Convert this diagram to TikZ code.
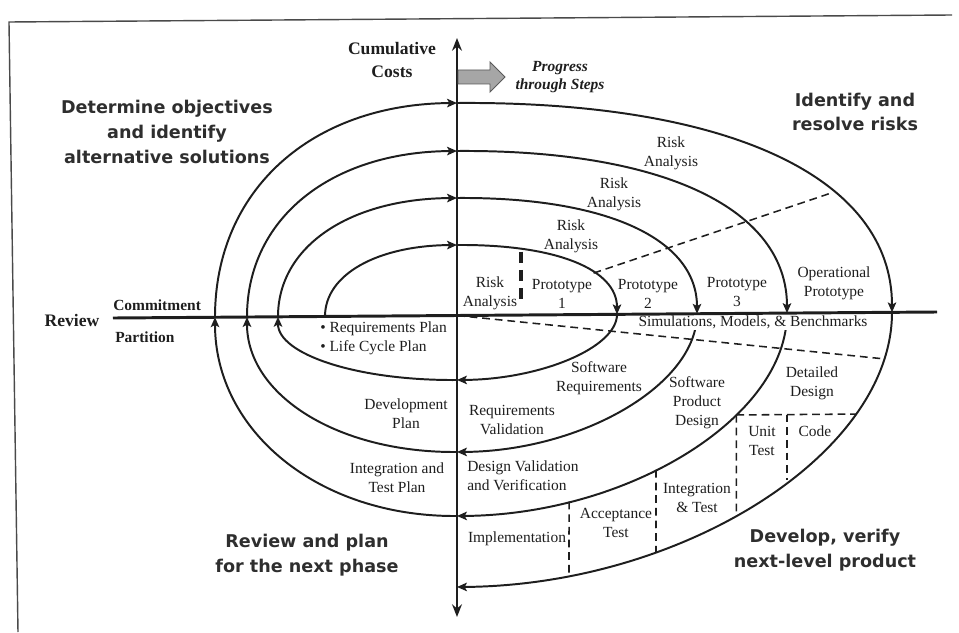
\documentclass[tikz,border=0pt]{standalone}
\usepackage{fontspec}
\setmainfont{Liberation Serif}
\newfontfamily\quadfamily{DejaVu Sans}
\usetikzlibrary{arrows.meta,intersections}

\definecolor{ink}{HTML}{1E1E1E}
\definecolor{quadink}{HTML}{2E2E2E}
\definecolor{framegray}{HTML}{4A4A4A}
\definecolor{stepgray}{HTML}{A6A6A6}

\newcommand\lblfont{\fontsize{11}{13.5}\selectfont}
\newcommand\quadfont{\quadfamily\bfseries\fontsize{12.5}{17.7}\selectfont}

% control-point factors of the four quadrant arcs
\def\kTL{0.6}
\def\kTR{0.63}
\def\kBR{0.52}
\def\kBL{0.57}

% quarter arcs of the spiral: #1 horizontal radius, #2 vertical radius, #3 path name
\newcommand\arcTL[3]{\draw[spiral,name path=#3] (-#1,0) .. controls (-#1,{\kTL*#2}) and ({-\kTL*#1},#2) .. (0,#2);}
\newcommand\arcTR[3]{\draw[spiral,name path=#3] (0,#2) .. controls ({\kTR*#1},#2) and (#1,{\kTR*#2}) .. (#1,0);}
\newcommand\arcBR[3]{\draw[spiral,name path=#3] (#1,0) .. controls (#1,{-\kBR*#2}) and ({\kBR*#1},-#2) .. (0,-#2);}
\newcommand\arcBL[3]{\draw[spiral,name path=#3] (0,-#2) .. controls ({-\kBL*#1},-#2) and (-#1,{-\kBL*#2}) .. (-#1,0);}

\begin{document}
\begin{tikzpicture}[x=0.025cm,y=0.025cm,
  spiral/.style={line width=1.4pt, draw=ink, -{Stealth[length=7pt,width=6pt,inset=1.5pt]}},
  axisline/.style={line width=2.1pt, draw=ink},
  dashline/.style={line width=1.1pt, draw=ink, dash pattern=on 5.5pt off 3.5pt},
  bolddash/.style={line width=2.6pt, draw=ink, dash pattern=on 8pt off 5pt},
  lbl/.style={font=\lblfont, align=center, text=ink, inner sep=0pt},
  boldlbl/.style={font=\bfseries\fontsize{11}{13.5}\selectfont, text=ink, inner sep=0pt},
  quad/.style={font=\quadfont, align=center, text=quadink, inner sep=0pt}]

\useasboundingbox (-457,-316.5) rectangle (502,315.5);

% page frame
\draw[framegray, line width=1pt] (-439,-316.5) -- (-448,293.5) -- (495,300.5);

\begin{scope}[yslant=0.0073]
  % the spiral, one quadrant at a time
  \arcTL{132}{70.5}{tl1}
  \arcTR{160}{70.5}{tr1}
  \arcBR{160}{64.5}{br1}
  \arcBL{179}{64.5}{bl1}
  \arcTL{179}{117.5}{tl2}
  \arcTR{240}{117.5}{tr2}
  \arcBR{240}{136.5}{br2}
  \arcBL{210}{136.5}{bl2}
  \arcTL{210}{164.5}{tl3}
  \arcTR{330}{164.5}{tr3}
  \arcBR{330}{200.5}{br3}
  \arcBL{242}{200.5}{bl3}
  \arcTL{242}{212.5}{tl4}
  \arcTR{435}{212.5}{tr4}
  \arcBR{435}{271.5}{br4}

  % prototype boundary in the risk quadrant
  \path[name path=trcut] (100,29.3) -- (420,134.9);
  \path[name intersections={of=trcut and tr1, by=trA}];
  \path[name intersections={of=trcut and tr4, by=trB}];
  \draw[dashline] (trA) -- (trB);

  % boundary below the simulations band
  \path[name path=simcut] (0,0) -- (470,-51.2);
  \path[name intersections={of=simcut and br4, by=simB}];
  \coordinate (orig) at (0,0);
  \draw[dashline] (orig) -- (simB);

  % detailed design / code / unit test boxes
  \path[name path=codecut] (150,-101.5) -- (470,-101.5);
  \path[name intersections={of=codecut and br3, by=cdA}];
  \path[name intersections={of=codecut and br4, by=cdB}];
  \draw[dashline] (cdA) -- (cdB);
  \path[name path=utcut] (cdA) -- ++(0,-200);
  \path[name intersections={of=utcut and br4, by=utB}];
  \draw[dashline] (cdA) -- (utB);
  \coordinate (cdTop) at (330,-101.5);
  \coordinate (cdEnd) at (330,-167);
  \draw[dashline] (cdTop) -- (cdEnd);

  % integration / acceptance / implementation boundaries
  \path[name path=itcut] (199,0) -- (199,-320);
  \path[name intersections={of=itcut and br3, by=itA}];
  \path[name intersections={of=itcut and br4, by=itB}];
  \draw[dashline] (itA) -- (itB);
  \path[name path=atcut] (112,0) -- (112,-320);
  \path[name intersections={of=atcut and br3, by=atA}];
  \path[name intersections={of=atcut and br4, by=atB}];
  \draw[dashline] (atA) -- (atB);

  % risk analysis / prototype 1 divider
  \coordinate (rdTop) at (64,63.5);
  \coordinate (rdEnd) at (64,10.5);
  \draw[bolddash] (rdTop) -- (rdEnd);
\end{scope}

\node[lbl, fill=white, inner sep=1pt] (sim) at (296,-6.5) {Simulations, Models, \& Benchmarks};

\begin{scope}[yslant=0.0073]
  \coordinate (hL) at (-344,0);
  \coordinate (hR) at (480,0);
  \coordinate (vB) at (0,-301.5);
  \coordinate (vT) at (0,277.5);
  \draw[axisline] (hL) -- (hR);
  \draw[axisline, {Stealth[length=9pt,width=7pt]}-{Stealth[length=9pt,width=7pt]}] (vB) -- (vT);
\end{scope}

% progress arrow
\draw[fill=stepgray, draw=black!65, line width=0.6pt]
  (1,245.5) -- (33,245.5) -- (33,253.5) -- (48,238.5) -- (33,223.5) -- (33,231.5) -- (1,231.5) -- cycle;

% axis and step labels
\node[boldlbl, align=center, font=\bfseries\fontsize{12.5}{17}\selectfont] (costs) at (-65,255.5) {Cumulative\\Costs};
\node[boldlbl, align=center, font=\bfseries\itshape\fontsize{11}{13}\selectfont] (progress) at (103,238.5) {Progress\\through Steps};
\node[boldlbl, font=\bfseries\fontsize{12.5}{15}\selectfont] (review) at (-385,-4.5) {Review};
\node[boldlbl, anchor=west] (commit) at (-344,10.5) {Commitment};
\node[boldlbl, anchor=west] (partition) at (-342,-21.5) {Partition};

% quadrant titles
\node[quad] (q1) at (-290,183.5) {Determine objectives\\and identify\\alternative solutions};
\node[quad] (q2) at (398,203.5) {Identify and\\resolve risks};
\node[quad] (q3) at (-150,-239.5) {Review and plan\\for the next phase};
\node[quad] (q4) at (368,-234.5) {Develop, verify\\next-level product};

% risk quadrant labels
\node[lbl] (ra1) at (214,162.5) {Risk\\Analysis};
\node[lbl] (ra2) at (157,121.5) {Risk\\Analysis};
\node[lbl] (ra3) at (114,79.5) {Risk\\Analysis};
\node[lbl] (ra4) at (33,22.5) {Risk\\Analysis};
\node[lbl] (p1) at (105,21.5) {Prototype\\1};
\node[lbl] (p2) at (191,21.5) {Prototype\\2};
\node[lbl] (p3) at (280,23.5) {Prototype\\3};
\node[lbl] (p4) at (377,32.5) {Operational\\Prototype};

% planning quadrant labels
\node[lbl, align=left, anchor=west] (plans) at (-137,-23) {\textbullet\ Requirements Plan\\\textbullet\ Life Cycle Plan};
\node[lbl] (devplan) at (-51,-98.5) {Development\\Plan};
\node[lbl] (itplan) at (-60,-162.5) {Integration and\\Test Plan};

% development quadrant labels
\node[lbl] (swreq) at (142,-62.5) {Software\\Requirements};
\node[lbl] (reqval) at (55,-104.5) {Requirements\\Validation};
\node[lbl] (swpd) at (240,-87.5) {Software\\Product\\Design};
\node[lbl] (detd) at (355,-67.5) {Detailed\\Design};
\node[lbl] (unit) at (305,-125.5) {Unit\\Test};
\node[lbl] (code) at (358,-115.5) {Code};
\node[lbl, align=left, anchor=west] (dvv) at (10,-160) {Design Validation\\and Verification};
\node[lbl] (inttest) at (240,-182.5) {Integration\\\& Test};
\node[lbl] (acc) at (159,-207.5) {Acceptance\\Test};
\node[lbl] (impl) at (60,-223.5) {Implementation};

\end{tikzpicture}
\end{document}
